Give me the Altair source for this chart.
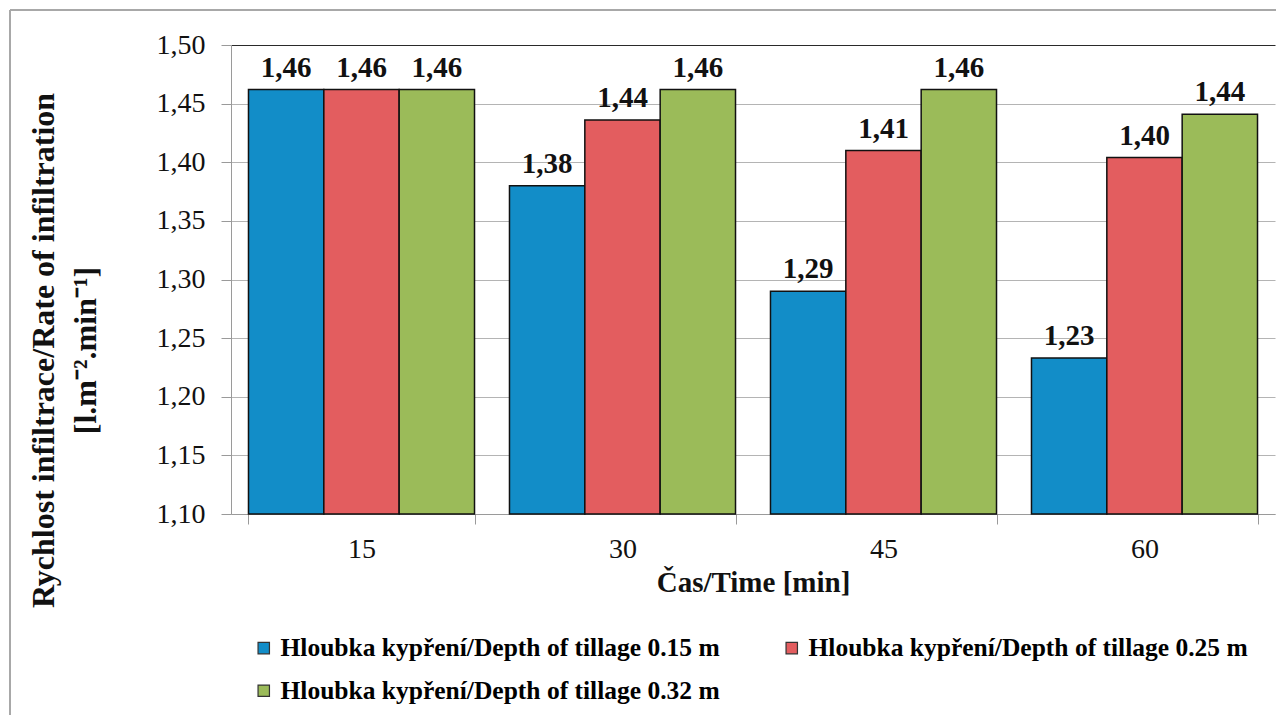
import altair as alt
import pandas as pd

# Infiltration rate by time and tillage depth
times = ["15", "30", "45", "60"]
series = [
    "Hloubka kypření/Depth  of tillage 0.15 m",
    "Hloubka kypření/Depth  of tillage 0.25 m",
    "Hloubka kypření/Depth  of tillage 0.32 m",
]
depth_015 = [1.462, 1.380, 1.290, 1.233]
depth_025 = [1.462, 1.436, 1.410, 1.404]
depth_032 = [1.462, 1.462, 1.462, 1.441]
colors = ["#128dc8", "#e35d5f", "#9bbb59"]

rows = []
for name, vals in zip(series, [depth_015, depth_025, depth_032]):
    for t, v in zip(times, vals):
        rows.append({"time": t, "series": name, "rate": v})
df = pd.DataFrame(rows)
df["label"] = df["rate"].map(lambda v: f"{v:.2f}".replace(".", ","))

FONT = "Liberation Serif, Times New Roman, serif"
W, H = 1044, 469

x_enc = alt.X(
    "time:N",
    sort=times,
    scale=alt.Scale(paddingInner=0.134, paddingOuter=0.067),
    axis=alt.Axis(
        title="Čas/Time [min]",
        labelAngle=0,
        tickBand="extent",
        tickSize=10,
        tickColor="#9a9a9a",
        domainColor="#9a9a9a",
        labelFont=FONT,
        labelFontSize=28,
        labelPadding=11,
        titleFont=FONT,
        titleFontSize=29,
        titleFontWeight="bold",
        titlePadding=5,
    ),
)
xoff = alt.XOffset("series:N", sort=series, scale=alt.Scale(paddingInner=0, paddingOuter=0))
y_enc = alt.Y(
    "rate:Q",
    scale=alt.Scale(domain=[1.10, 1.50], zero=False, clamp=True, nice=False),
    axis=alt.Axis(
        values=[1.10, 1.15, 1.20, 1.25, 1.30, 1.35, 1.40, 1.45, 1.50],
        labelExpr="replace(format(datum.value, '.2f'), '.', ',')",
        title=["Rychlost infiltrace/Rate of infiltration", "[l.m⁻².min⁻¹]"],
        titleFont=FONT,
        titleFontSize=32,
        titleFontWeight="bold",
        titleLineHeight=42,
        titleX=-178,
        titleY=305,
        titleAlign="center",
        titleBaseline="alphabetic",
        tickSize=10,
        tickColor="#9a9a9a",
        domainColor="#9a9a9a",
        labelFont=FONT,
        labelFontSize=28,
        labelPadding=16,
        grid=True,
        gridColor={"condition": {"test": "datum.value == 1.5", "value": "#2a2a2a"}, "value": "#b4b4b4"},
        gridWidth=1.2,
    ),
)

bars = alt.Chart(df).mark_bar(stroke="#111111", strokeWidth=1.5).encode(
    x=x_enc,
    xOffset=xoff,
    y=y_enc,
    color=alt.Color(
        "series:N",
        sort=series,
        scale=alt.Scale(domain=series, range=colors),
        legend=alt.Legend(
            title=None,
            orient="none",
            direction="horizontal",
            legendX=20,
            legendY=590,
            columns=2,
            columnPadding=52,
            rowPadding=16,
            symbolType="square",
            symbolSize=130,
            symbolStrokeColor="#333333",
            symbolStrokeWidth=1.2,
            labelFont=FONT,
            labelFontSize=25.5,
            labelFontWeight="bold",
            labelOffset=4,
            labelLimit=700,
        ),
    ),
)

labels = alt.Chart(df).mark_text(
    font=FONT, fontSize=29, fontWeight="bold", baseline="alphabetic", dy=-13, color="#111111"
).encode(
    x=alt.X("time:N", sort=times),
    xOffset=alt.XOffset("series:N", sort=series),
    y="rate:Q",
    text="label:N",
)

# Outer frame lines
frame_left = alt.Chart(df).mark_rule(color="#a8a8a8", strokeWidth=2).encode(
    x=alt.value(-221), y=alt.value(-35), y2=alt.value(700)
)
frame_top = alt.Chart(df).mark_rule(color="#a8a8a8", strokeWidth=2).encode(
    x=alt.value(-221), x2=alt.value(1100), y=alt.value(-35)
)

chart = (
    alt.layer(bars, labels, frame_left, frame_top)
    .properties(width=W, height=H, autosize=alt.AutoSizeParams(type="none"),
                padding={"left": 231, "top": 45, "right": 1, "bottom": 201})
    .configure(font=FONT, background="white")
    .configure_view(stroke=None)
    .configure_axis(labelColor="#111111", titleColor="#111111")
)

chart.save("out.html", embed_options={"renderer": "svg", "actions": False})
